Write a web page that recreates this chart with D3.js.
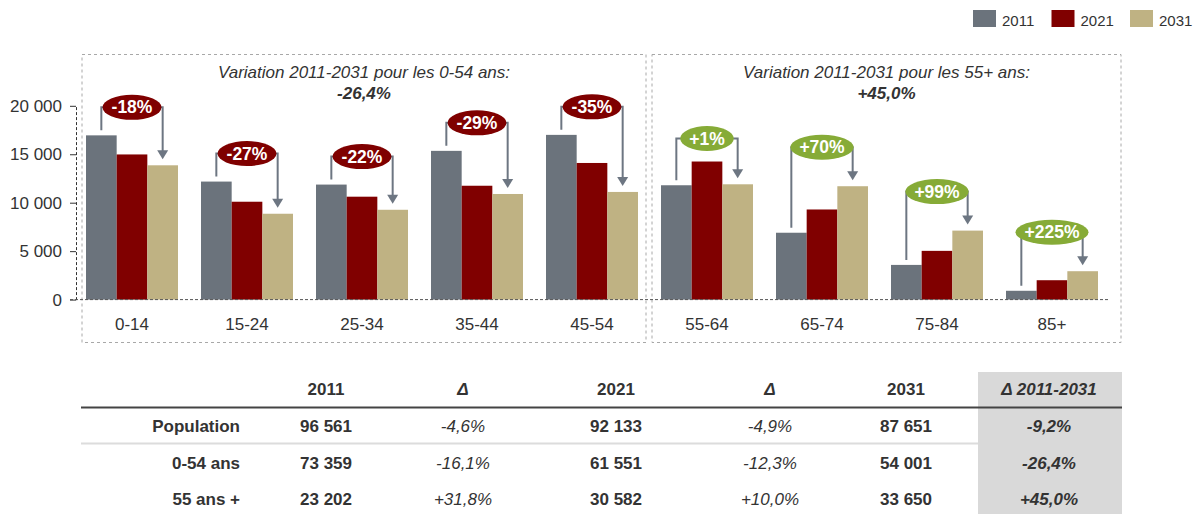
<!DOCTYPE html>
<html>
<head>
<meta charset="utf-8">
<script src="https://cdn.jsdelivr.net/npm/d3@7"></script>
<style>
  body { margin: 0; background: #fff; }
  svg { display: block; font-family: "Liberation Sans", Arial, sans-serif; }
</style>
</head>
<body>
<div id="chart"></div>
<script>
// Population par groupe d'âge, 2011 / 2021 / 2031
const ageGroups = ["0-14", "15-24", "25-34", "35-44", "45-54", "55-64", "65-74", "75-84", "85+"];
const years = ["2011", "2021", "2031"];
const pop2011 = [16950, 12180, 11870, 15350, 17000, 11800, 6900, 3580, 910];
const pop2021 = [14980, 10100, 10620, 11750, 14100, 14250, 9300, 5030, 2000];
const pop2031 = [13860, 8860, 9270, 10900, 11110, 11900, 11700, 7120, 2930];
const variationLabels = ["-18%", "-27%", "-22%", "-29%", "-35%", "+1%", "+70%", "+99%", "+225%"];
const yTicks = [0, 5000, 10000, 15000, 20000];

const panelGroups = [ageGroups.slice(0, 5), ageGroups.slice(5)];
const panelTitles = ["Variation 2011-2031 pour les 0-54 ans:", "Variation 2011-2031 pour les 55+ ans:"];
const panelValues = ["-26,4%", "+45,0%"];

const tableHeader = ["", "2011", "Δ", "2021", "Δ", "2031", "Δ 2011-2031"];
const tableRowPopulation = ["Population", "96 561", "-4,6%", "92 133", "-4,9%", "87 651", "-9,2%"];
const tableRowYoung = ["0-54 ans", "73 359", "-16,1%", "61 551", "-12,3%", "54 001", "-26,4%"];
const tableRowOld = ["55 ans +", "23 202", "+31,8%", "30 582", "+10,0%", "33 650", "+45,0%"];

const colors = {"2011": "#6b737c", "2021": "#800000", "2031": "#bfb283"};
const textColor = "#333";
const W = 1198, H = 514;

const svg = d3.select("#chart").append("svg")
    .attr("width", W)
    .attr("height", H);

const fr = d3.formatLocale({decimal: ",", thousands: " ", grouping: [3], currency: ["", " €"]});
const fmt = fr.format(",");

const series = {"2011": pop2011, "2021": pop2021, "2031": pop2031};
const data = ageGroups.map((g, i) => ({group: g, values: years.map(yr => ({year: yr, value: series[yr][i]})), label: variationLabels[i]}));

const x = d3.scaleBand()
    .domain(ageGroups)
    .range([74.5, 1109.5])
    .paddingInner(0.2)
    .paddingOuter(0.1);

const xs = d3.scaleBand()
    .domain(years)
    .range([0, x.bandwidth()]);

const y = d3.scaleLinear()
    .domain([0, 20000])
    .range([299.6, 105.8]);

// dashed panels
const panels = [
    {x0: 82, x1: 646},
    {x0: 652, x1: 1121}
];
panels.forEach((p, i) => {
    svg.append("rect")
        .attr("x", p.x0).attr("y", 54.5)
        .attr("width", p.x1 - p.x0).attr("height", 288)
        .attr("fill", "none")
        .attr("stroke", "#a8a8a8")
        .attr("stroke-dasharray", "3,3");
    const cx = (p.x0 + p.x1) / 2;
    svg.append("text")
        .attr("x", cx).attr("y", 77.5)
        .attr("text-anchor", "middle")
        .attr("font-size", 17).attr("font-style", "italic")
        .attr("fill", textColor)
        .text(panelTitles[i]);
    svg.append("text")
        .attr("x", cx).attr("y", 99)
        .attr("text-anchor", "middle")
        .attr("font-size", 17).attr("font-style", "italic").attr("font-weight", "bold")
        .attr("fill", textColor)
        .text(panelValues[i]);
});

// y axis
const yAxis = svg.append("g")
    .attr("transform", "translate(76,0)")
    .call(d3.axisLeft(y).tickValues(yTicks).tickFormat(fmt).tickSizeInner(6).tickSizeOuter(0).tickPadding(8));
yAxis.select(".domain").attr("stroke", "#333").attr("stroke-dasharray", "3,2");
yAxis.selectAll(".tick line").attr("stroke", "#333");
yAxis.selectAll(".tick text").attr("font-size", 17).attr("fill", textColor)
    .attr("font-family", "Liberation Sans, Arial, sans-serif");

// bars
const groups = svg.selectAll(".grp")
    .data(data)
    .enter()
    .append("g")
    .attr("class", "grp")
    .attr("transform", d => `translate(${x(d.group)},0)`);

groups.selectAll("rect")
    .data(d => d.values)
    .enter()
    .append("rect")
    .attr("x", d => xs(d.year))
    .attr("y", d => y(d.value))
    .attr("width", xs.bandwidth())
    .attr("height", d => y(0) - y(d.value))
    .attr("fill", d => colors[d.year]);

// baseline
svg.append("line")
    .attr("x1", 70).attr("x2", 1110)
    .attr("y1", y(0)).attr("y2", y(0))
    .attr("stroke", "#555")
    .attr("stroke-dasharray", "3,2");

// category labels
const xAxis = svg.append("g")
    .attr("transform", `translate(0,${y(0)})`)
    .call(d3.axisBottom(x).tickSize(0).tickPadding(18));
xAxis.select(".domain").remove();
xAxis.selectAll("text").attr("font-size", 17).attr("fill", textColor)
    .attr("font-family", "Liberation Sans, Arial, sans-serif");

// variation brackets + badges
const arrowColor = "#6d7682";
data.forEach(d => {
    const v11 = d.values[0].value, v21 = d.values[1].value, v31 = d.values[2].value;
    const gx = x(d.group) + xs("2011") + xs.bandwidth() / 2;
    const tx = x(d.group) + xs("2031") + xs.bandwidth() / 2;
    const by = Math.min(y(v11) - 28, y(v21) - 23, y(v31) - 39);
    const tip = y(v31) - 6;
    const g = svg.append("g");
    g.append("path")
        .attr("d", `M${gx},${y(v11) - 5}V${by}H${tx}V${tip - 8}`)
        .attr("fill", "none")
        .attr("stroke", arrowColor)
        .attr("stroke-width", 2);
    g.append("path")
        .attr("d", `M${tx - 5.5},${tip - 9}L${tx + 5.5},${tip - 9}L${tx},${tip}Z`)
        .attr("fill", arrowColor);
    const ell = g.append("ellipse")
        .attr("cx", (gx + tx) / 2)
        .attr("cy", by)
        .attr("ry", 12.5)
        .attr("fill", d.label.startsWith("-") ? "#7f0000" : "#86ab37");
    const t = g.append("text")
        .attr("x", (gx + tx) / 2)
        .attr("y", by + 6)
        .attr("text-anchor", "middle")
        .attr("font-size", 17.5)
        .attr("font-weight", "bold")
        .attr("fill", "#fff")
        .text(d.label);
    ell.attr("rx", t.node().getComputedTextLength() / 2 + 9);
});

// legend
const legend = svg.append("g");
years.forEach((yr, i) => {
    const lx = 973 + i * 78.5;
    legend.append("rect")
        .attr("x", lx).attr("y", 10)
        .attr("width", 23).attr("height", 17)
        .attr("fill", colors[yr]);
    legend.append("text")
        .attr("x", lx + 29).attr("y", 26)
        .attr("font-size", 15)
        .attr("fill", textColor)
        .text(yr);
});

// table
const colX = [240, 326, 463, 616, 770, 906, 1049];
const rowY = [395, 432, 469, 505];
const rows = [tableHeader, tableRowPopulation, tableRowYoung, tableRowOld];

svg.append("rect")
    .attr("x", 978).attr("y", 372)
    .attr("width", 144).attr("height", H - 372)
    .attr("fill", "#d9d9d9");
svg.append("line")
    .attr("x1", 81).attr("x2", 1122)
    .attr("y1", 407.5).attr("y2", 407.5)
    .attr("stroke", "#444").attr("stroke-width", 2);
svg.append("line")
    .attr("x1", 81).attr("x2", 978)
    .attr("y1", 443.5).attr("y2", 443.5)
    .attr("stroke", "#dcdcdc").attr("stroke-width", 2);

rows.forEach((row, r) => {
    row.forEach((cell, c) => {
        if (!cell) return;
        const isDelta = c === 2 || c === 4;
        const last = c === 6;
        const bold = r === 0 || c === 0 || c === 1 || c === 3 || c === 5 || last;
        const italic = isDelta || last;
        svg.append("text")
            .attr("x", colX[c])
            .attr("y", rowY[r])
            .attr("text-anchor", c === 0 ? "end" : "middle")
            .attr("font-size", 17)
            .attr("font-weight", bold ? "bold" : "normal")
            .attr("font-style", italic ? "italic" : "normal")
            .attr("fill", textColor)
            .text(cell);
    });
});
</script>
</body>
</html>
